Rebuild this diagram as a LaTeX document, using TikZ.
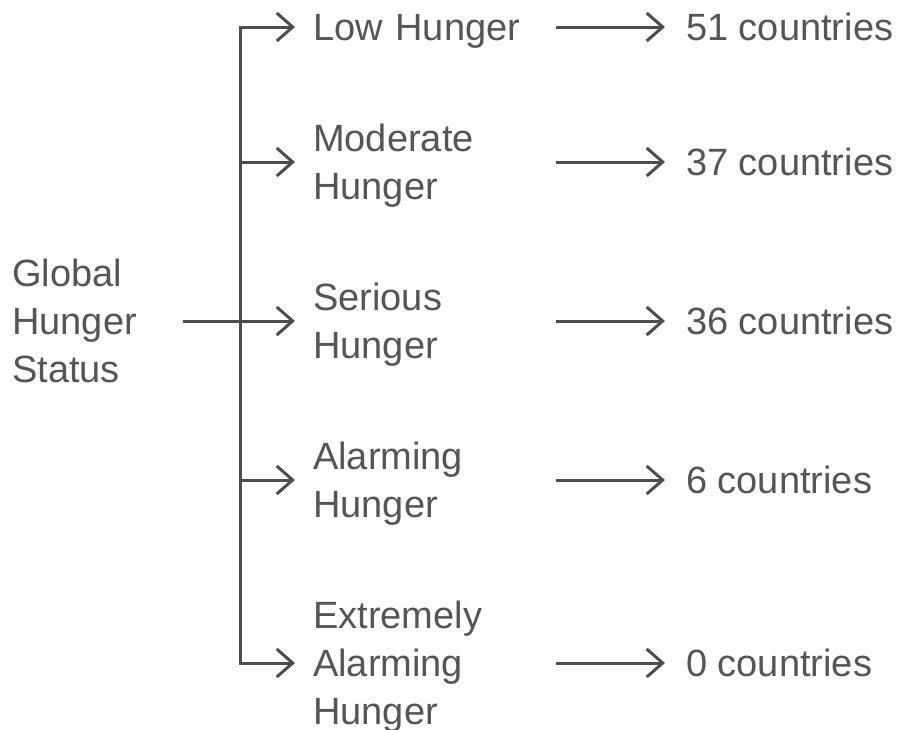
\documentclass[tikz,border=0pt]{standalone}
\usepackage{fontspec}
\setmainfont{Liberation Sans}
\usepackage{xcolor}
\usepackage{tikz}
\usetikzlibrary{arrows.meta}
\definecolor{ink}{HTML}{555555}
\definecolor{wire}{HTML}{4D4D4D}
\tikzset{
  link/.style={draw=wire, line width=3pt, line join=miter, -{Straight Barb[length=16pt,width=28pt]}},
  lab/.style={text=ink, font=\fontsize{38}{48}\selectfont, inner sep=0pt, align=left},
  rootlab/.style={lab, anchor=west, text width=171pt},
  kind/.style={lab, anchor=west, inner xsep=18pt, text width=225pt},
  count/.style={lab, anchor=west, inner xsep=21pt},
}
\begin{document}
\begin{tikzpicture}[x=1pt,y=-1pt]
  \useasboundingbox (0,0) rectangle (905,729);
  \coordinate (hub) at (240,321);

  \node[rootlab] (root) at (12,321) {Global\\Hunger\\Status};

  \node[kind] (low) at (295,31) {Low Hunger};
  \node[kind] (mod) at (295,166) {Moderate\\Hunger};
  \node[kind] (ser) at (295,325) {Serious\\Hunger};
  \node[kind] (ala) at (295,484) {Alarming\\Hunger};
  \node[kind] (ext) at (295,667) {Extremely\\Alarming\\Hunger};

  \node[count] (nlow) at (665,27) {51 countries};
  \node[count] (nmod) at (665,162) {37 countries};
  \node[count] (nser) at (665,321) {36 countries};
  \node[count] (nala) at (665,480) {6 countries};
  \node[count] (next) at (665,663) {0 countries};

  \draw[link] (root.east) -- ([yshift=4pt]ser.west);
  \draw[link] (hub) |- ([yshift=4pt]low.west);
  \draw[link] (hub) |- ([yshift=4pt]mod.west);
  \draw[link] (hub) |- ([yshift=4pt]ala.west);
  \draw[link] (hub) |- ([yshift=4pt]ext.west);

  \draw[link] ([yshift=4pt]low.east) -- (nlow.west);
  \draw[link] ([yshift=4pt]mod.east) -- (nmod.west);
  \draw[link] ([yshift=4pt]ser.east) -- (nser.west);
  \draw[link] ([yshift=4pt]ala.east) -- (nala.west);
  \draw[link] ([yshift=4pt]ext.east) -- (next.west);
\end{tikzpicture}
\end{document}
